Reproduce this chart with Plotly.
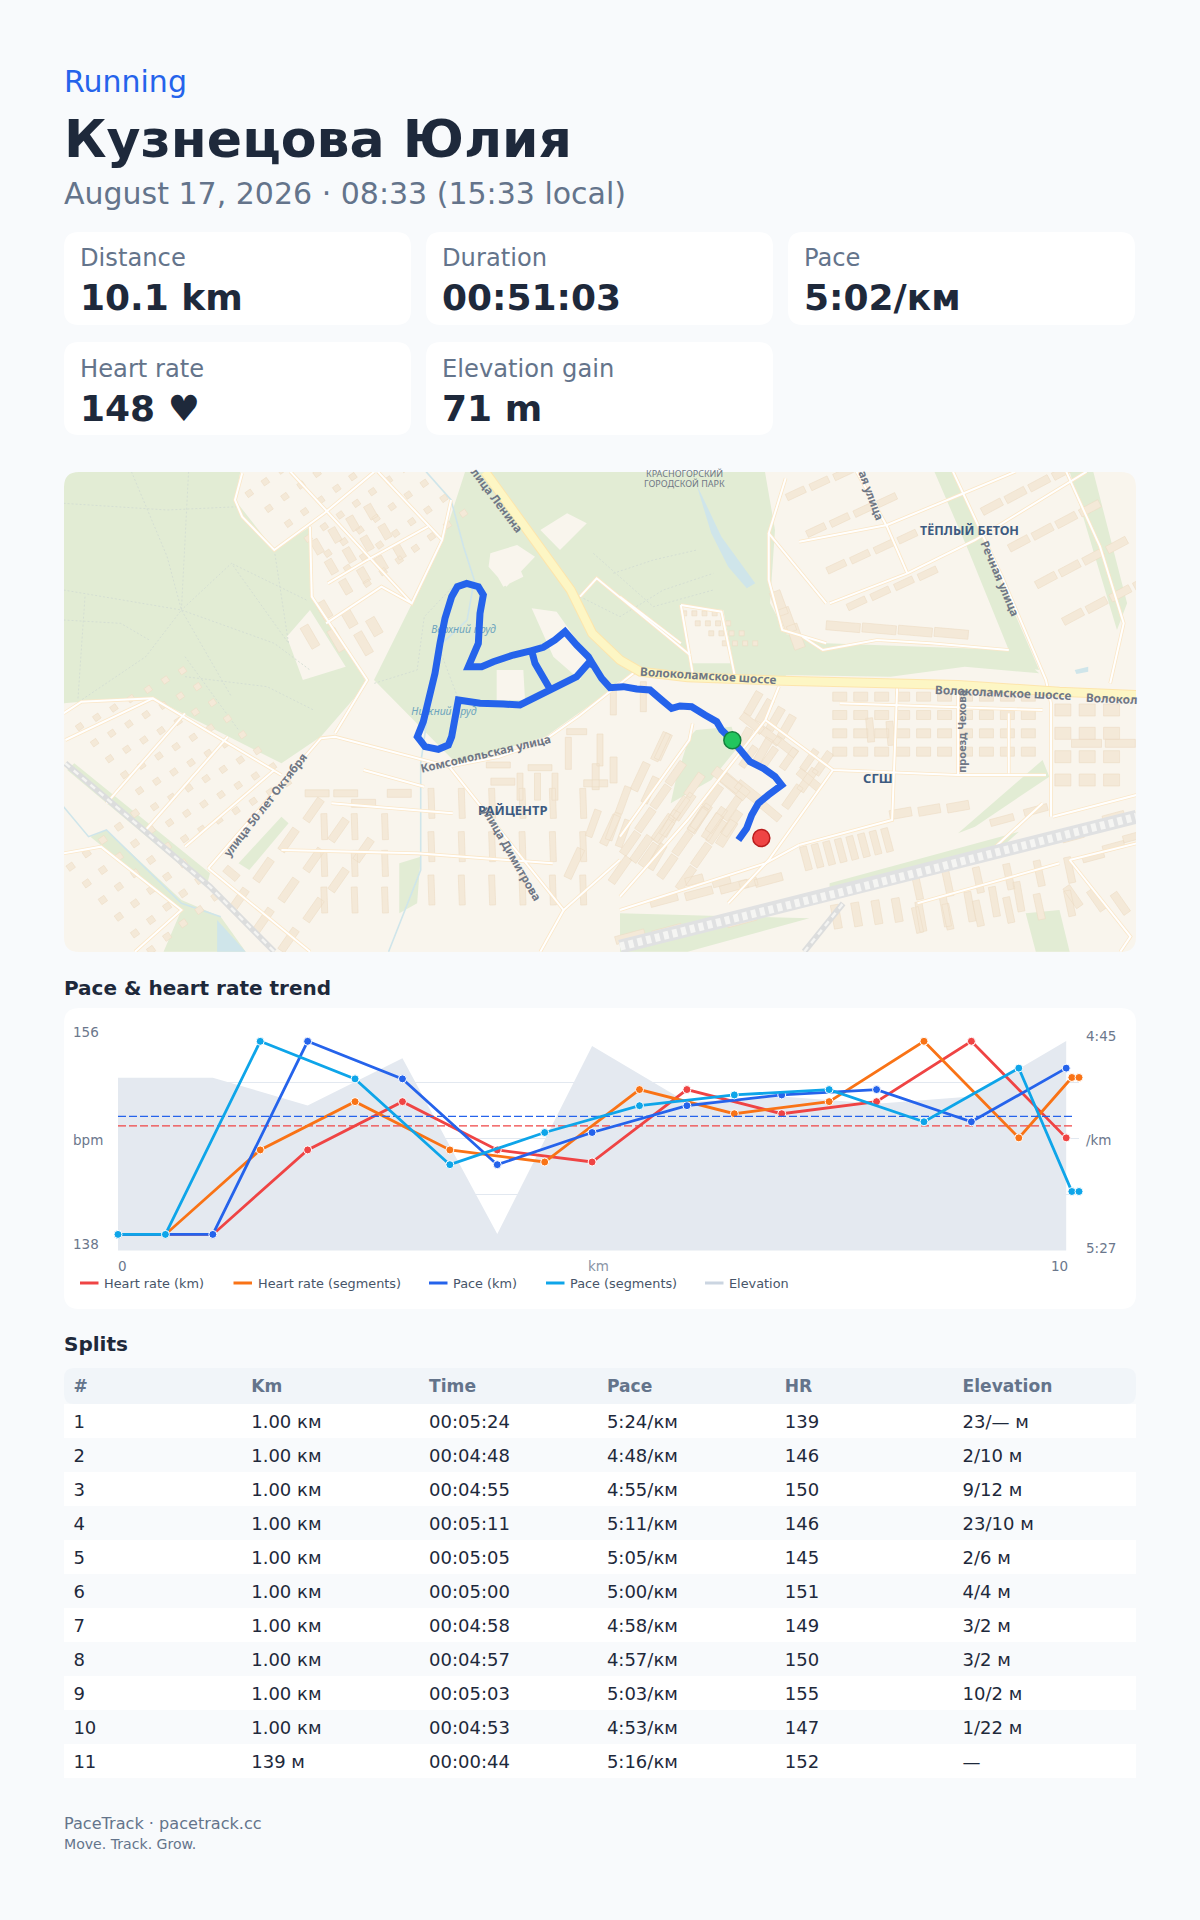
import math
import plotly.graph_objects as go

W, H = 1200, 1920
BG = "#f8fafc"; INK = "#1e293b"; MUTE = "#64748b"; BLUE = "#2563eb"; RED = "#ef4444"; ORANGE = "#f97316"; CYAN = "#0ea5e9"
FONT = "DejaVu Sans"

# ---------- chart data ----------
km_x = [0, 1, 2, 3, 4, 5, 6, 7, 8, 9, 10]
seg_x = [0, 0.5, 1.5, 2.5, 3.5, 4.5, 5.5, 6.5, 7.5, 8.5, 9.5, 10.06, 10.135]
hr_km = [139, 139, 146, 150, 146, 145, 151, 149, 150, 155, 147]
hr_seg = [139, 139, 146, 150, 146, 145, 151, 149, 150, 155, 147, 152, 152]
pace_km = [324, 324, 288, 295, 311, 305, 300, 298, 297, 303, 293]
pace_seg = [324, 324, 288, 295, 311, 305, 300, 298, 297, 303, 293, 316, 316]
elev_x = [0, 1, 2, 3, 4, 5, 6, 7, 8, 9, 10]
elev_m = [187.2, 187.2, 183.8, 189.6, 168.0, 191.1, 184.2, 184.9, 184.0, 184.9, 191.7]
avg_hr = 148
avg_pace = 302
avg_x = [0, 10.09]

# ---------- table data ----------
split_no = ["1", "2", "3", "4", "5", "6", "7", "8", "9", "10", "11"]
split_km = ["1.00 км"] * 10 + ["139 м"]
split_time = ["00:05:24", "00:04:48", "00:04:55", "00:05:11", "00:05:05", "00:05:00", "00:04:58", "00:04:57", "00:05:03", "00:04:53", "00:00:44"]
split_pace = ["5:24/км", "4:48/км", "4:55/км", "5:11/км", "5:05/км", "5:00/км", "4:58/км", "4:57/км", "5:03/км", "4:53/км", "5:16/км"]
split_hr = ["139", "146", "150", "146", "145", "151", "149", "150", "155", "147", "152"]
split_elev = ["23/— м", "2/10 м", "9/12 м", "23/10 м", "2/6 м", "4/4 м", "3/2 м", "3/2 м", "10/2 м", "1/22 м", "—"]
table_head = ["#", "Km", "Time", "Pace", "HR", "Elevation"]

# ---------- stat cards ----------
stat_labels = ["Distance", "Duration", "Pace", "Heart rate", "Elevation gain"]
stat_values = ["10.1 km", "00:51:03", "5:02/км", "148 ♥", "71 m"]
stat_cols = [0, 1, 2, 0, 1]
stat_rows = [0, 0, 0, 1, 1]

# ---------- route (map pixel coordinates, 3x crop space) ----------
route_u = [1075,1100,1115,1135,1165,1205,1185,1150,1110,1090,1057,1025,1010,975,935,900,875,845,810,770,730,690,665,640,625,
           590,550,510,465,420,370,300,235,225,215,205,175,135,112,130,150,165,180,195,215,232,260,295,310,300,295,280,265,
           305,340,400,455,465,490,510,490,465,455,490,525,555,590,625,640,665,690,730,770,810,845,875,900,935,975,1010,1025,1057]
route_v = [900,865,825,790,765,735,710,685,665,640,601,570,545,525,500,498,505,480,450,447,440,443,415,375,370,
           410,430,447,475,495,492,490,480,540,590,615,628,620,590,545,470,400,310,235,170,140,130,140,165,220,310,350,380,
           380,365,345,332,370,410,447,410,370,332,322,300,275,315,350,375,415,443,440,447,450,480,505,498,500,525,545,570,601]
start_uv = (1057, 601)
end_uv = (1144, 894)
route_x = [380 + u / 3 for u in route_u]
route_y = [540 + v / 3 for v in route_v]

def a(x, y): return (60 + x / 2.8, 470 + y / 3)      # left crop
def b(x, y): return (620 + x / 2.958, 470 + y / 3)   # right crop
def c(x, y): return (380 + x / 3, 540 + y / 3)       # centre crop

# ---------- basemap geometry ----------
green_polys = [
    [a(10,5),a(505,5),a(490,90),a(600,240),a(700,170),a(705,380),a(860,640),a(730,800),a(620,880),a(260,685),a(60,695),a(10,700)],
    [(442,543),(465,472),(765,472),(775,530),(770,603),(800,660),(782,680),(640,672),(618,682),(600,698),(545,737),(456,763),(374,680)],
    [b(150,1000),b(270,930),b(350,830),b(330,770),b(225,780),b(205,800),b(165,930)],
    [b(930,5),b(985,5),b(1240,600),b(1170,590),b(1030,240)],
    [b(1330,5),b(1400,5),b(1500,400),b(1470,480)],
    [b(620,1240),b(1180,1085),b(1120,1140),b(830,1200),b(620,1270)],
    [b(1000,1090),b(1250,870),b(1270,920),b(1050,1070)],
    [a(85,1100),a(130,1080),a(340,1290),a(450,1340),a(520,1445),a(290,1445),a(340,1320)],
    [a(40,880),a(420,1210),a(410,1250),a(20,900)],
    [b(1200,1330),b(1300,1320),b(1330,1445),b(1230,1445)],
    [b(440,480),b(610,520),b(1160,540),b(1240,610),b(1020,590),b(800,620),b(480,615)],
    [b(0,1330),b(560,1345),b(200,1445),b(0,1445)],
    [a(950,1180),a(1010,1160),a(1000,1300),a(950,1330)],
    [a(500,1180),a(620,1040),a(640,1060),a(530,1200)],
]
cream_polys = [
    [c(330,70),c(400,40),c(430,110),c(370,140)],
    [c(905,200),c(1030,210),c(1060,370),c(930,370)],
    [c(455,205),c(530,215),c(625,350),c(600,420),c(520,350)],
    [a(1205,250),a(1280,225),a(1330,260),a(1250,350),a(1200,290)],
    [a(1345,180),a(1420,130),a(1475,160),a(1400,240)],
    [a(635,500),a(700,420),a(800,590),a(680,630)],
    [c(350,390),c(430,390),c(435,480),c(350,480)],
    [a(780,790),a(870,650),a(900,790),a(870,830)],
]
water_polys = [
    [b(225,40),b(300,200),b(400,340),b(375,355),b(320,290),b(270,190)],
    [a(440,1350),a(520,1445),a(440,1445)],
    [b(1345,600),b(1385,590),b(1385,605),b(1350,612)],
]
water_lines = [
    [a(1025,5),a(1095,90),a(1130,230),a(1160,330),a(1140,450),a(1060,530),a(1030,730),a(1010,880),a(1010,1200),a(920,1445)],
    [a(10,1010),a(80,1100),a(130,1080),a(340,1300),a(450,1340)],
]
path_lines = [
    [a(200,5),a(300,260),a(340,420),a(480,680)], [a(360,5),a(340,420),a(240,560),a(60,690)],
    [a(10,360),a(340,420),a(600,520),a(700,600)], [a(10,100),a(300,120),a(500,110)],
    [a(70,380),a(50,690)], [a(350,560),a(500,780)], [a(600,240),a(640,520),a(480,280),a(340,420)],
    [a(10,450),a(170,460),a(250,510)], [a(690,390),a(480,280)], [a(350,620),a(580,650),a(710,720)],
    [a(880,640),a(1000,600),a(1020,440),a(1100,350)], [a(1060,530),a(1120,700)],
    [c(600,170),c(720,230),c(850,150),c(1000,100)], [c(700,100),c(820,60),c(950,30)], [c(640,40),c(820,200),c(1000,150)],
]
yellow_roads = [
    [a(1190,5),a(1310,180),a(1430,360),a(1490,490),a(1568,570),b(60,605),b(200,622),b(480,632),b(1000,645),b(1300,665),b(1528,675)],
]
white_roads = [
    [a(415,1195),a(730,805),a(770,800),a(1090,890),a(1230,860),a(1350,815),a(1450,740),a(1568,640),(640,668)],
    [a(415,1195),a(500,1270),a(700,1445)],
    [a(620,915),a(260,685),a(60,695),a(10,730)],
    [a(1090,890),a(1410,1320),a(1345,1445)],
    [a(1410,1320),a(1568,1170)],
    [a(510,10),a(490,90),a(510,140),a(600,240),a(740,130),a(880,5)],
    [a(645,5),a(985,400),a(1070,210),a(1095,90)],
    [a(700,170),a(705,380),a(860,630),a(770,790)],
    [a(890,5),a(1070,210)],
    [a(750,340),a(860,270),a(1030,170)],
    [a(745,460),a(900,350),a(985,400)],
    [a(10,1150),a(115,1130),a(340,1320),a(210,1445)],
    [a(15,810),a(260,685)], [a(130,1000),a(350,730)], [a(240,1080),a(470,800)], [a(350,1130),a(600,900)],
    [a(850,900),a(1020,950)], [a(760,1000),a(1100,1030)], [a(620,1140),a(1000,1150),a(1380,1180)],
    [b(985,5),b(1130,320),b(1260,630),b(1275,700),b(1275,1040)],
    [b(620,400),b(850,310),b(1050,210),b(1380,5)],
    [b(700,5),b(790,170),b(850,310)],
    [b(530,215),b(790,165),b(1040,60),b(1170,5)],
    [b(490,25),b(440,190),b(610,400)],
    [b(440,190),b(440,330),b(480,480),b(610,520)],
    [b(1320,5),b(1420,230),b(1490,460),b(1450,640)],
    [b(430,750),b(470,650)],
    [b(430,750),b(630,900),b(1000,915),b(1260,915)],
    [b(630,900),b(440,1170),b(320,1300)],
    [b(430,750),b(200,1050),b(0,1280)],
    [b(820,650),b(805,1050),b(530,1125)],
    [b(1280,1040),b(1528,975)],
    [b(1330,1170),b(1510,1400),b(1480,1445)],
    [b(1330,1170),b(1528,1120)],
    [b(215,760),b(205,810),b(0,1100)],
    [b(0,380),b(180,520)],
    [b(180,405),b(300,425),b(340,620)],
    [b(180,405),b(215,610)],
    [c(600,170),c(650,115),c(930,345)],
    [b(800,1240),b(1100,1140),b(1250,1000)],
    [b(880,1300),b(1300,1180)],
    [b(0,1320),b(430,1180),b(530,1125)],
    [b(540,500),b(600,540),b(760,510),b(920,520),b(1150,540)],
    [b(650,700),b(1250,720)], [b(1000,650),b(1000,915)], [b(1150,730),b(1150,910)],
]
rail_wide = [[b(0,1430),b(640,1270),b(1528,1040)]]
rail_thin = [[a(15,880),a(420,1250),a(600,1445)], [b(545,1445),b(660,1300)]]
# rows of buildings: crop fn, x0,y0,x1,y1,count,length,width,angle
building_rows = [
    (b,550,1165,790,1110,8,24,7,75),(b,130,1290,440,1230,4,28,8,-15),(b,340,950,340,950,1,30,12,40),
    (b,240,1040,330,1060,3,28,8,-55),(b,510,980,600,880,3,26,8,-55),(b,440,1020,560,930,2,28,8,40),
    (b,390,760,490,830,3,26,8,38),(b,380,860,560,870,4,24,7,-55),
    (b,740,780,800,790,2,24,7,85),(b,1380,820,1480,820,2,30,8,0),(b,830,1030,1000,1010,3,22,9,-10),
    (b,1130,1050,1230,1020,2,24,7,-15),(b,470,400,520,500,3,25,11,70),(b,660,470,980,490,4,34,9,5),
    (b,0,1200,190,1010,4,30,8,-55),(b,60,920,120,830,2,30,8,-65),
    (b,220,1230,380,1240,3,18,8,-15),(b,890,1340,1180,1280,5,30,7,80),(b,1340,1280,1480,1300,3,24,8,55),
    (b,640,1340,820,1320,4,24,8,80),(b,30,1400,360,1350,4,30,8,-15),
    (c,700,480,790,470,2,30,6,90),(c,565,640,660,630,2,32,6,90),(c,420,740,525,740,3,27,6,90),
    (c,355,675,480,683,2,24,6,0),(c,590,575,590,575,1,20,6,0),(c,1120,490,1220,560,4,25,8,-60),
    (c,1090,600,1150,630,2,26,8,-60),(c,1040,720,1110,760,2,32,10,38),(c,955,840,1040,880,3,28,9,-58),
    (c,850,620,810,750,2,28,7,-65),(c,730,780,730,880,2,28,7,-70),(c,640,850,700,860,2,28,7,-70),
    (c,870,850,830,950,2,28,8,-60),(a,1440,1180,1540,1080,2,32,8,-65),
    (a,720,970,800,970,2,24,7,0),(a,700,500,850,520,3,24,9,60),(a,740,420,880,470,3,18,10,60),
    (a,850,1000,950,970,2,24,8,0),(a,480,1210,480,1210,1,16,8,40),(a,1240,935,1500,940,2,24,7,0),
    (a,1500,920,1550,900,2,26,7,90),
]
# patches of buildings: crop fn, x0,y0, row step dx,dy, col step dx,dy, rows, cols, length, width, angle
block_patches = [
    (a,55,770,42,48,48,-28,8,7,6.5,6,-35),
    (a,530,70,55,45,45,-35,7,7,6.5,6,-35),
    (a,30,1190,45,50,45,-40,6,5,7,6.5,-35),
    (b,190,430,40,30,30,0,4,4,5,5,0),
    (b,520,70,60,110,70,-30,4,4,20,7,-25),
    (b,1100,110,80,110,70,-35,4,4,22,8,-28),
    (b,650,680,0,55,62,0,4,10,14,9,0),
    (b,1310,720,0,70,72,0,4,3,16,12,0),
    (b,30,1120,55,35,45,-70,4,4,26,8,-55),
    (a,1040,1000,0,130,85,0,3,6,30,6,88),
    (a,740,1070,0,110,85,0,3,3,26,6,88),
    (a,500,1290,70,60,70,-90,3,4,26,8,-55),
    (a,720,230,40,60,50,-35,3,4,15,8,60),
    (b,880,1250,0,100,90,-10,2,6,26,7,78),
    (b,1340,1100,60,60,60,-30,2,3,22,7,-15),
]

# ---------- helper geometry ----------
def poly_trace(polys):
    xs, ys = [], []
    for p in polys:
        for q in list(p) + [p[0], (None, None)]:
            xs.append(q[0]); ys.append(q[1])
    return xs, ys

def line_xy(lines):
    xs, ys = [], []
    for p in lines:
        for q in list(p) + [(None, None)]:
            xs.append(q[0]); ys.append(q[1])
    return xs, ys

def rect(cx, cy, l, w, ang):
    t = math.radians(ang); ux, uy = math.cos(t), math.sin(t); vx, vy = -uy, ux
    return [(cx + sx * l / 2 * ux + sy * w / 2 * vx, cy + sx * l / 2 * uy + sy * w / 2 * vy)
            for sx, sy in ((-1, -1), (1, -1), (1, 1), (-1, 1))]

buildings = []
for fn, x0, y0, x1, y1, n, l, w, ang in building_rows:
    for i in range(n):
        t = i / (n - 1) if n > 1 else 0
        cx, cy = fn(x0 + (x1 - x0) * t, y0 + (y1 - y0) * t)
        buildings.append(rect(cx, cy, l, w, ang))
for fn, x0, y0, rx, ry, cx_, cy_, nr, nc, l, w, ang in block_patches:
    for i in range(nr):
        for j in range(nc):
            cx, cy = fn(x0 + i * rx + j * cx_, y0 + i * ry + j * cy_)
            buildings.append(rect(cx, cy, l, w, ang))

fig = go.Figure()

# ---------- axes ----------
def dx(a0, a1): return [a0 / W, a1 / W]
def dy(top, bot): return [1 - bot / H, 1 - top / H]
PX0, PX1, PT, PB = 118, 1079, 1026.3, 1250.5

hidden = dict(showgrid=False, zeroline=False, showticklabels=False, ticks="", showline=False, fixedrange=True)
layout_axes = dict(
    xaxis=dict(domain=dx(PX0, PX1), range=[0, 10.135], anchor="y", **hidden),
    yaxis=dict(domain=dy(PT, PB), range=[165.98, 193.52], anchor="x", zeroline=False, showticklabels=False, ticks="",
               showline=False, showgrid=True, gridcolor="#e2e8f0", gridwidth=1.2, tick0=166, dtick=6.875, fixedrange=True),
    yaxis2=dict(domain=dy(PT, PB), range=[137.67, 156.24], overlaying="y", anchor="x", **hidden),
    yaxis3=dict(domain=dy(PT, PB), range=[327, 285.2], overlaying="y", side="right", anchor="x", **hidden),
    xaxis2=dict(domain=dx(64, 1136), range=[64, 1136], anchor="y4", **hidden),
    yaxis4=dict(domain=dy(472, 952), range=[952, 472], anchor="x2", **hidden),
)

# ---------- basemap ----------
def map_fill(polys, color, name, line=None, lw=0):
    x, y = poly_trace(polys)
    fig.add_trace(go.Scatter(x=x, y=y, xaxis="x2", yaxis="y4", mode="lines", fill="toself", fillcolor=color,
                             line=dict(width=lw, color=line or color), hoverinfo="skip", showlegend=False, name=name))
def map_line(lines, color, width, name, dash=None):
    x, y = line_xy(lines)
    fig.add_trace(go.Scatter(x=x, y=y, xaxis="x2", yaxis="y4", mode="lines",
                             line=dict(width=width, color=color, dash=dash), connectgaps=False,
                             hoverinfo="skip", showlegend=False, name=name))

fig.add_trace(go.Scatter(x=[64, 1136, 1136, 64, 64], y=[472, 472, 952, 952, 472], xaxis="x2", yaxis="y4", mode="lines",
                         fill="toself", fillcolor="#f9f5ed", line=dict(width=0), hoverinfo="skip", showlegend=False, name="land"))
map_fill(green_polys, "#e2ecd4", "parks")
map_fill(cream_polys, "#f9f5ed", "plots")
map_line(path_lines, "#d3dcd2", 0.9, "paths", dash="2px,2px")
map_line(water_lines, "#cfe5ea", 1.6, "streams")
map_fill(water_polys, "#cfe5ea", "water")
map_fill(buildings, "#f4e9d8", "buildings", "#ecdcc4", 0.6)
map_line(white_roads, "#fbe7c8", 3.6, "road casing")
map_line(white_roads, "#ffffff", 2, "roads")
map_line(rail_wide, "#e0e1e2", 14, "rail wide")
map_line(rail_wide, "#f5f5f3", 8, "rail wide dash", dash="5px,4px")
map_line(rail_thin, "#dcdddd", 6, "rail")
map_line(rail_thin, "#f4f4f2", 2.5, "rail dash", dash="6px,5px")
map_line(yellow_roads, "#fde5ac", 10, "main casing")
map_line(yellow_roads, "#fdf6c4", 8, "main road")
fig.add_trace(go.Scatter(x=[a(1130, 481)[0], a(1075, 727)[0]], y=[a(1130, 481)[1], a(1075, 727)[1]], xaxis="x2", yaxis="y4",
                         mode="text", text=["Верхний пруд", "Нижний пруд"], hoverinfo="skip", showlegend=False,
                         textfont=dict(family="Noto Sans", size=10.5, color="#6fa5bd", style="italic"), name="ponds"))
# route
fig.add_trace(go.Scatter(x=route_x, y=route_y, xaxis="x2", yaxis="y4", mode="lines", name="Route", hoverinfo="skip",
                         showlegend=False, line=dict(color=BLUE, width=7, shape="linear")))
fig.add_trace(go.Scatter(x=[380 + start_uv[0] / 3], y=[540 + start_uv[1] / 3], xaxis="x2", yaxis="y4", mode="markers", name="Start",
                         hoverinfo="skip", showlegend=False, marker=dict(size=17, color="#22c55e", line=dict(color="#15803d", width=1.5))))
fig.add_trace(go.Scatter(x=[380 + end_uv[0] / 3], y=[540 + end_uv[1] / 3], xaxis="x2", yaxis="y4", mode="markers", name="End",
                         hoverinfo="skip", showlegend=False, marker=dict(size=17, color=RED, line=dict(color="#b91c1c", width=1.5))))

# ---------- chart traces ----------
fig.add_trace(go.Scatter(x=elev_x, y=elev_m, name="Elevation", mode="lines", line=dict(width=0, color="#cbd5e1"),
                         fill="tozeroy", fillcolor="#e4e9f0", xaxis="x", yaxis="y", showlegend=False))
def series(x, y, color, name, ax, w=2.8):
    fig.add_trace(go.Scatter(x=x, y=y, name=name, mode="lines+markers", xaxis="x", yaxis=ax, showlegend=False, cliponaxis=False,
                             line=dict(color=color, width=w),
                             marker=dict(size=8, color=color, line=dict(color="#ffffff", width=1))))
fig.add_trace(go.Scatter(x=avg_x, y=[avg_hr, avg_hr], mode="lines", xaxis="x", yaxis="y2", showlegend=False, name="Avg HR",
                         line=dict(color=RED, width=1.2, dash="8px,3px")))
series(km_x, hr_km, RED, "Heart rate (km)", "y2")
series(seg_x, hr_seg, ORANGE, "Heart rate (segments)", "y2")
fig.add_trace(go.Scatter(x=avg_x, y=[avg_pace, avg_pace], mode="lines", xaxis="x", yaxis="y3", showlegend=False, name="Avg pace",
                         line=dict(color=BLUE, width=1.2, dash="8px,3px")))
series(km_x, pace_km, BLUE, "Pace (km)", "y3")
series(seg_x, pace_seg, CYAN, "Pace (segments)", "y3")

# ---------- table ----------
fig.add_trace(go.Table(
    domain=dict(x=[(64 + 1.4) / W, (64 + 1.4 + 6 * 177.9) / W], y=dy(1368, 1782)),
    columnwidth=[177.9] * 6,
    header=dict(values=[f"<b>{h}</b>" for h in table_head], height=38.4, align="left",
                fill_color="rgba(0,0,0,0)", line_width=0,
                font=dict(family=FONT, size=17.1, color=MUTE)),
    cells=dict(values=[split_no, split_km, split_time, split_pace, split_hr, split_elev], height=34, align="left",
               fill_color="rgba(0,0,0,0)", line_width=0,
               font=dict(family=FONT, size=18, color=INK)),
))

# ---------- shapes & text ----------
def px(x): return x / W
def py(y): return 1 - y / H
def round_path(x0, y0, x1, y1, r):
    return (f"M{px(x0+r)},{py(y0)} L{px(x1-r)},{py(y0)} Q{px(x1)},{py(y0)} {px(x1)},{py(y0+r)} "
            f"L{px(x1)},{py(y1-r)} Q{px(x1)},{py(y1)} {px(x1-r)},{py(y1)} L{px(x0+r)},{py(y1)} "
            f"Q{px(x0)},{py(y1)} {px(x0)},{py(y1-r)} L{px(x0)},{py(y0+r)} Q{px(x0)},{py(y0)} {px(x0+r)},{py(y0)} Z")
shapes = []
def card(x0, y0, x1, y1, r=15, fill="#ffffff", layer="below"):
    shapes.append(dict(type="path", xref="paper", yref="paper", path=round_path(x0, y0, x1, y1, r),
                       fillcolor=fill, line=dict(width=0), layer=layer))
def band(x0, y0, x1, y1, fill):
    shapes.append(dict(type="rect", xref="paper", yref="paper", x0=px(x0), x1=px(x1), y0=py(y0), y1=py(y1),
                       fillcolor=fill, line=dict(width=0), layer="below"))

card_x = [(64, 411), (426, 773), (788, 1135)]
card_y = [(232, 325), (342, 435)]
for col, row in zip(stat_cols, stat_rows):
    card(card_x[col][0], card_y[row][0], card_x[col][1], card_y[row][1])
card(64, 1008, 1136, 1309)

# map corner masks
r = 15
for (cx, cy, sx, sy) in [(64, 472, 1, 1), (1136, 472, -1, 1), (64, 952, 1, -1), (1136, 952, -1, -1)]:
    shapes.append(dict(type="path", xref="paper", yref="paper", layer="above", line=dict(width=0), fillcolor=BG,
        path=f"M{px(cx)},{py(cy)} L{px(cx+sx*r)},{py(cy)} Q{px(cx)},{py(cy)} {px(cx)},{py(cy+sy*r)} Z"))

# table bands
card(64, 1368, 1136, 1404, r=10, fill="#f1f5f9")
for i in range(11):
    y0 = 1404 + 34 * i
    band(64, y0, 1136, y0 + 34, "#ffffff" if i % 2 == 0 else BG)

ann = []
def text(x, y, s, size, color=INK, bold=False, anchor="left", family=FONT, angle=0):
    if anchor == "left":
        x -= 2.3
    ann.append(dict(x=px(x), y=py(y), xref="paper", yref="paper", text=f"<b>{s}</b>" if bold else s, showarrow=False,
                    xanchor=anchor, yanchor="middle", textangle=angle, align="left",
                    font=dict(family=family, size=size, color=color)))

text(64, 81.5, "Running", 30, BLUE)
text(64, 139, "Кузнецова Юлия", 52.1, INK, bold=True)
text(64, 193, "August 17, 2026 · 08:33 (15:33 local)", 30, MUTE)
label_y = [258, 369]; value_y = [297.5, 408]
for lab, val, col, row in zip(stat_labels, stat_values, stat_cols, stat_rows):
    x = card_x[col][0] + 16
    text(x, label_y[row], lab, 24.2, MUTE)
    text(x, value_y[row], val, 36, INK, bold=True)

text(64, 988, "Pace &amp; heart rate trend", 20, INK, bold=True)
text(64, 1344, "Splits", 20, INK, bold=True)

# chart axis text
TICK = "#6b778c"
text(73, 1032, "156", 13.5, TICK); text(73, 1140, "bpm", 13.5, TICK); text(73, 1244, "138", 13.5, TICK)
text(1086, 1036, "4:45", 13.5, TICK); text(1086, 1140, "/km", 13.5, TICK); text(1086, 1248, "5:27", 13.5, TICK)
text(118, 1266, "0", 13.5, TICK); text(598.5, 1266, "km", 13.5, "#8a94a6", anchor="center"); text(1051, 1266, "10", 13.5, TICK)

# legend
legend_items = ["Heart rate (km)", "Heart rate (segments)", "Pace (km)", "Pace (segments)", "Elevation"]
legend_cols = [RED, ORANGE, BLUE, CYAN, "#cbd5e1"]
legend_sw = [80, 233.5, 429, 546, 705]
for name, col, sx in zip(legend_items, legend_cols, legend_sw):
    shapes.append(dict(type="rect", xref="paper", yref="paper", x0=px(sx), x1=px(sx + 18.5), y0=py(1281.5), y1=py(1284.5),
                       fillcolor=col, line=dict(width=0), layer="above"))
    text(sx + 24.5, 1283, name, 12.85, "#475569")

# map labels
ML = "#6f7785"; MB = "#3d5a80"
MF = "Noto Sans"
for pos, s, size, col, bold, ang in [
    (a(1225, 90), "лица Ленина", 11.5, ML, True, 53),
    (b(190, 12), "КРАСНОГОРСКИЙ", 9, ML, False, 0),
    (b(190, 40), "ГОРОДСКОЙ ПАРК", 9, ML, False, 0),
    (b(745, 75), "ая улица", 11.5, ML, True, 70),
    (b(1033, 182), "ТЁПЛЫЙ БЕТОН", 12.5, MB, True, 0),
    (b(1125, 325), "Речная улица", 11.5, ML, True, 67),
    (b(263, 616), "Волоколамское шоссе", 11.8, ML, True, 3.5),
    (b(1135, 665), "Волоколамское шоссе", 11.8, ML, True, 2.5),
    (b(1455, 684), "Волокол", 11.8, ML, True, 2.5),
    (b(1012, 785), "проезд Чехова", 11, ML, True, -90),
    (b(762, 925), "СГШ", 13, MB, True, 0),
    (a(1267, 1020), "РАЙЦЕНТР", 13, MB, True, 0),
    (a(1190, 850), "Комсомольская улица", 11.5, ML, True, -13),
    (a(575, 1005), "улица 50 лет Октября", 11.5, ML, True, -52),
    (a(1265, 1150), "улица Димитрова", 11.5, ML, True, 60),
]:
    text(pos[0], pos[1], s, size, col, bold=bold, anchor="center", family=MF, angle=ang)

text(64, 1823, "PaceTrack · pacetrack.cc", 16.1, MUTE)
text(64, 1844, "Move. Track. Grow.", 14.1, MUTE)

fig.update_layout(width=W, height=H, margin=dict(l=0, r=0, t=0, b=0), paper_bgcolor=BG, plot_bgcolor="rgba(0,0,0,0)",
                  showlegend=False, shapes=shapes, annotations=ann, font=dict(family=FONT), hovermode=False, **layout_axes)

fig.write_html("out.html", config=dict(displayModeBar=False, staticPlot=False),
               post_script="document.body.style.margin='0';document.body.style.background='#f8fafc';")
